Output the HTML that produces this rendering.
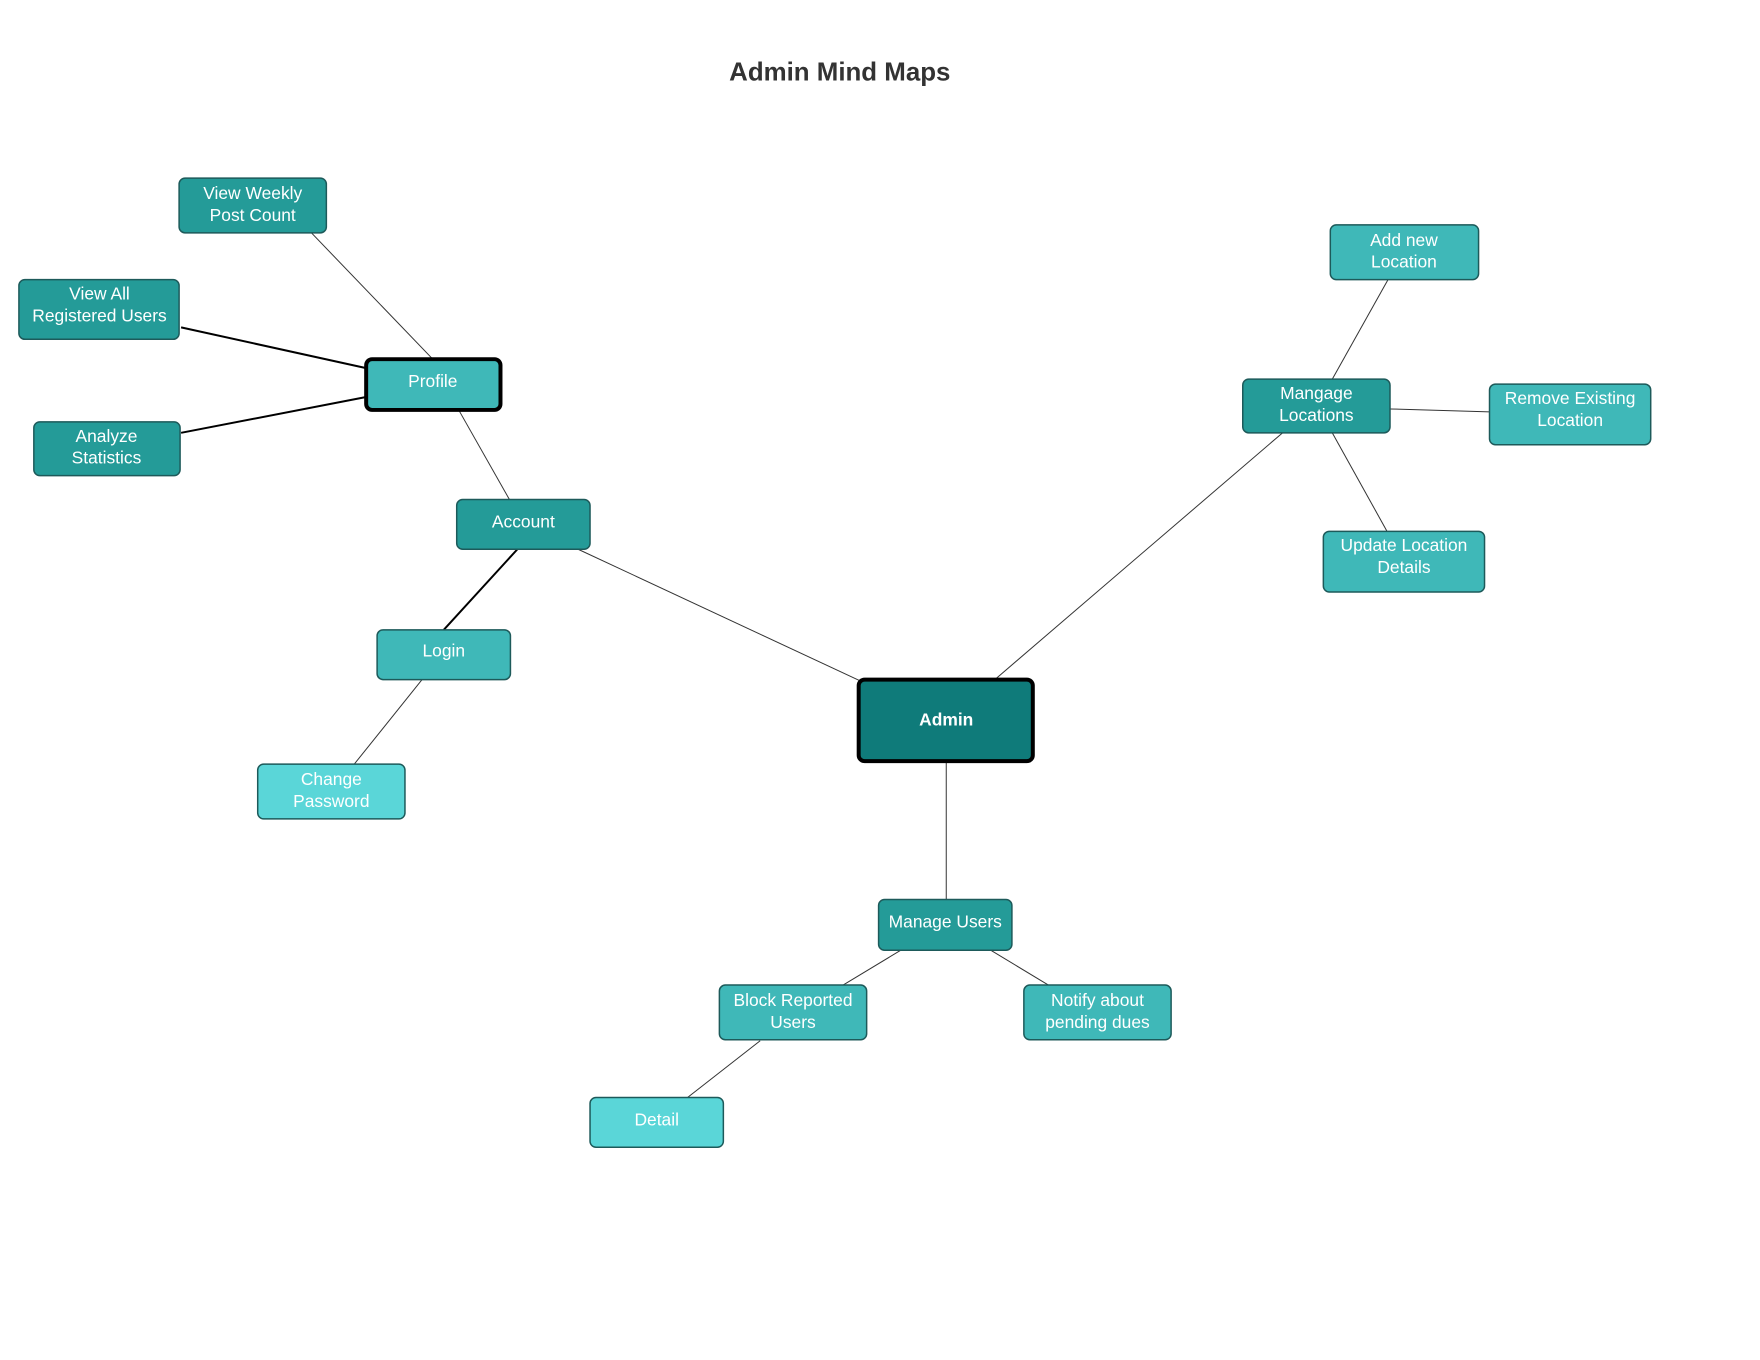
<!DOCTYPE html>
<html><head><meta charset="utf-8"><style>
html,body{margin:0;padding:0;background:#fff;width:1760px;height:1360px;overflow:hidden}
text{font-family:"Liberation Sans",Arial,sans-serif}
</style></head><body>
<svg width="1760" height="1360" xmlns="http://www.w3.org/2000/svg">
<g transform="scale(0.995)">
<text x="844" y="81" font-size="26" font-weight="bold" fill="#333" text-anchor="middle">Admin Mind Maps</text>
<g stroke="#333" stroke-width="1" fill="none">
<line x1="312" y1="233" x2="435" y2="361"/>
<line x1="182" y1="329" x2="368" y2="370" stroke="#000" stroke-width="2"/>
<line x1="182" y1="435" x2="368" y2="399" stroke="#000" stroke-width="2"/>
<line x1="461" y1="412" x2="512" y2="502"/>
<line x1="520" y1="552" x2="446" y2="633" stroke="#000" stroke-width="2"/>
<line x1="425" y1="682" x2="356" y2="768"/>
<line x1="581" y1="552" x2="866" y2="685"/>
<line x1="1001" y1="682" x2="1289" y2="435"/>
<line x1="1339" y1="381" x2="1395" y2="281"/>
<line x1="1397" y1="411" x2="1497" y2="414"/>
<line x1="1339" y1="435" x2="1394" y2="534"/>
<line x1="951" y1="765" x2="951" y2="904"/>
<line x1="907" y1="954" x2="844" y2="992"/>
<line x1="994" y1="954" x2="1057" y2="992"/>
<line x1="764" y1="1046" x2="691" y2="1103"/>
</g>
<g stroke="#1d5a5a" stroke-width="1.5" fill="#fff">
<rect x="180" y="179" width="148" height="55" rx="6" fill="#249b98"/>
<rect x="19" y="281" width="161" height="60" rx="6" fill="#249b98"/>
<rect x="34" y="424" width="147" height="54" rx="6" fill="#249b98"/>
<rect x="368" y="361" width="135" height="51" rx="6" fill="#3fb8b8" stroke="#000" stroke-width="4"/>
<rect x="459" y="502" width="134" height="50" rx="6" fill="#249b98"/>
<rect x="379" y="633" width="134" height="50" rx="6" fill="#3fb8b8"/>
<rect x="259" y="768" width="148" height="55" rx="6" fill="#5ad6d8"/>
<rect x="863" y="683" width="175" height="82" rx="6" fill="#0f7b7a" stroke="#000" stroke-width="4"/>
<rect x="883" y="904" width="134" height="51" rx="6" fill="#249b98"/>
<rect x="723" y="990" width="148" height="55" rx="6" fill="#3fb8b8"/>
<rect x="1029" y="990" width="148" height="55" rx="6" fill="#3fb8b8"/>
<rect x="593" y="1103" width="134" height="50" rx="6" fill="#5ad6d8"/>
<rect x="1249" y="381" width="148" height="54" rx="6" fill="#249b98"/>
<rect x="1337" y="226" width="149" height="55" rx="6" fill="#3fb8b8"/>
<rect x="1497" y="386" width="162" height="61" rx="6" fill="#3fb8b8"/>
<rect x="1330" y="534" width="162" height="61" rx="6" fill="#3fb8b8"/>
</g>
<g font-size="17.5" fill="#fff" text-anchor="middle">
<text x="254" y="200">View Weekly</text><text x="254" y="222">Post Count</text>
<text x="100" y="301">View All</text><text x="100" y="323">Registered Users</text>
<text x="107" y="444">Analyze</text><text x="107" y="466">Statistics</text>
<text x="435" y="389">Profile</text>
<text x="526" y="530">Account</text>
<text x="446" y="660">Login</text>
<text x="333" y="789">Change</text><text x="333" y="811">Password</text>
<text x="951" y="729" font-weight="bold">Admin</text>
<text x="950" y="932">Manage Users</text>
<text x="797" y="1011">Block Reported</text><text x="797" y="1033">Users</text>
<text x="1103" y="1011">Notify about</text><text x="1103" y="1033">pending dues</text>
<text x="660" y="1131">Detail</text>
<text x="1323" y="401">Mangage</text><text x="1323" y="423">Locations</text>
<text x="1411" y="247">Add new</text><text x="1411" y="269">Location</text>
<text x="1578" y="406">Remove Existing</text><text x="1578" y="428">Location</text>
<text x="1411" y="554">Update Location</text><text x="1411" y="576">Details</text>
</g>
</g>
</svg>
</body></html>
